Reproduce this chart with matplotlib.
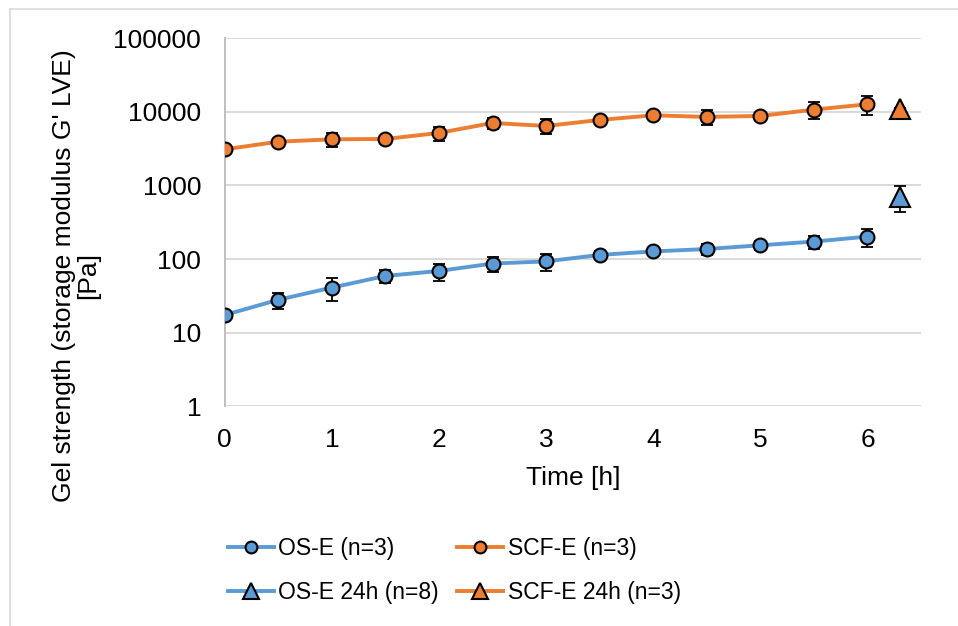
import matplotlib.pyplot as plt
from matplotlib.lines import Line2D
from matplotlib.ticker import FixedLocator, NullLocator

plt.rcParams['font.family'] = ['Liberation Sans', 'DejaVu Sans']

# data
time_h = [0, 0.5, 1, 1.5, 2, 2.5, 3, 3.5, 4, 4.5, 5, 5.5, 6]
os_e = [17.4, 28, 41, 59, 69, 87, 93, 114, 127, 137, 154, 173, 202]
os_e_err = [1.5, 7, 14, 12, 18, 21, 24, 14, 12, 25, 20, 35, 55]
scf_e = [3100, 3940, 4240, 4290, 5180, 7080, 6440, 7780, 8990, 8550, 8810, 10740, 12700]
scf_e_err = [300, 350, 900, 350, 1100, 1300, 1450, 500, 700, 1950, 800, 2700, 3700]

t_24h = [6.3]
os_e_24h = [705]
os_e_24h_err = [268]
scf_e_24h = [10900]
scf_e_24h_err = [300]

labels = ["OS-E (n=3)", "SCF-E (n=3)", "OS-E 24h (n=8)", "SCF-E 24h (n=3)"]
y_ticks = [1, 10, 100, 1000, 10000, 100000]
x_ticks = [0, 1, 2, 3, 4, 5, 6]

blue = "#5B9BD5"
orange = "#ED7D31"
fs = 19

fig = plt.figure(figsize=(9.58, 6.26), dpi=100)
ax = fig.add_axes([0.2346, 0.351, 0.9614 - 0.2346, 0.9388 - 0.351])

# error bars behind the markers
err_kw = dict(fmt="none", ecolor="black", elinewidth=1.3, capsize=4.5, capthick=1.3, zorder=2)
ax.errorbar(time_h, os_e, yerr=os_e_err, **err_kw)
ax.errorbar(time_h, scf_e, yerr=scf_e_err, **err_kw)
ax.errorbar(t_24h, os_e_24h, yerr=os_e_24h_err, **err_kw)
ax.errorbar(t_24h, scf_e_24h, yerr=scf_e_24h_err, **err_kw)

l1, = ax.plot(time_h, os_e, "-o", color=blue, lw=2.8, ms=10, mfc=blue, mec="black", mew=1.5, zorder=3)
l2, = ax.plot(time_h, scf_e, "-o", color=orange, lw=2.8, ms=10, mfc=orange, mec="black", mew=1.5, zorder=3)
l3, = ax.plot(t_24h, os_e_24h, "-^", color=blue, lw=2.8, ms=14, mfc=blue, mec="black", mew=1.5, zorder=3)
l4, = ax.plot(t_24h, scf_e_24h, "-^", color=orange, lw=2.8, ms=14, mfc=orange, mec="black", mew=1.5, zorder=3)

ax.set_yscale("log")
ax.set_ylim(1, 100000)
ax.set_xlim(0, 6.5)
ax.yaxis.set_major_locator(FixedLocator(y_ticks))
ax.yaxis.set_minor_locator(NullLocator())
ax.set_yticklabels([str(v) for v in y_ticks])
ax.set_xticks(x_ticks)
ax.set_xticklabels([str(v) for v in x_ticks])
ax.tick_params(axis="both", length=0, labelsize=fs)
ax.tick_params(axis="y", pad=17)
ax.tick_params(axis="x", pad=16)

ax.grid(axis="y", color="#d9d9d9", lw=1.4)
ax.set_axisbelow(True)
for s in ["top", "right", "bottom"]:
    ax.spines[s].set_visible(False)
ax.spines["left"].set_color("#bfbfbf")
ax.spines["left"].set_linewidth(1.4)

ax.set_xlabel("Time [h]", fontsize=fs, labelpad=10)
fig.text(76 / 958, 1 - 276 / 626, "Gel strength (storage modulus G' LVE)\n[Pa]",
         rotation=90, ha="center", va="center", fontsize=fs, linespacing=1.05,
         multialignment="center")

fig.legend([l1, l3, l2, l4], [labels[0], labels[2], labels[1], labels[3]],
           ncol=2, loc="center left", bbox_to_anchor=(228 / 958, 1 - 570.5 / 626),
           bbox_transform=fig.transFigure, frameon=False, fontsize=16.5,
           handlelength=2.0, handletextpad=0.2, columnspacing=0.8,
           labelspacing=0.9, borderpad=0, borderaxespad=0, markerscale=0.85)

# chart border (only top and left visible in the crop)
fig.add_artist(Line2D([10 / 958, 10 / 958], [0, 1 - 9 / 626], color="#d9d9d9", lw=1.2))
fig.add_artist(Line2D([10 / 958, 1], [1 - 9 / 626, 1 - 9 / 626], color="#d9d9d9", lw=1.2))

fig.savefig("out.png", dpi=100)
